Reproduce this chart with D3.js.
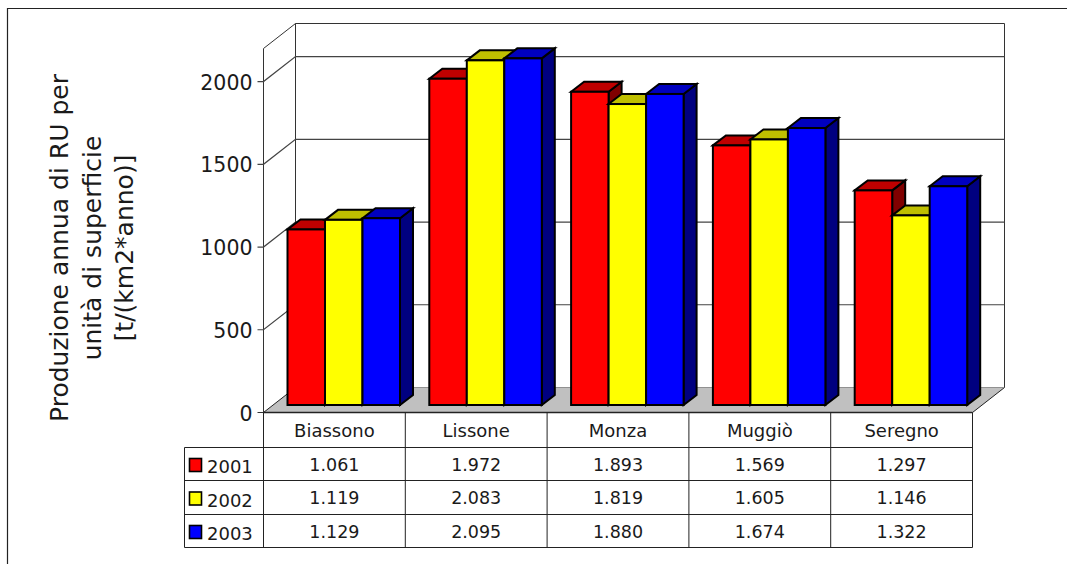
<!DOCTYPE html>
<html>
<head>
<meta charset="utf-8">
<script src="https://cdn.jsdelivr.net/npm/d3@7"></script>
<style>
html, body { margin: 0; padding: 0; background: #fff; }
svg { display: block; }
text { font-family: "DejaVu Sans", Verdana, sans-serif; fill: #1a1a1a; }
</style>
</head>
<body>
<svg id="chart" width="1067" height="564"></svg>
<script>
const categories = ["Biassono", "Lissone", "Monza", "Muggiò", "Seregno"];
const years = ["2001", "2002", "2003"];
const values2001 = [1061, 1972, 1893, 1569, 1297];
const values2002 = [1119, 2083, 1819, 1605, 1146];
const values2003 = [1129, 2095, 1880, 1674, 1322];
const yTicks = [0, 500, 1000, 1500, 2000];
const axisTitle = ["Produzione annua di RU per", "unità di superficie", "[t/(km2*anno)]"];
const frontColors = ["#ff0000", "#ffff00", "#0000ff"];
const topColors = ["#bf0000", "#bfbf00", "#0000bf"];
const sideColors = ["#800000", "#808000", "#000080"];

const series = [values2001, values2002, values2003];
const itFormat = d3.formatLocale({ decimal: ",", thousands: ".", grouping: [3], currency: ["€", ""] }).format(",d");

const svg = d3.select("#chart");

// Frame and plot geometry
const frame = { left: 7.5, top: 8.5 };
const plot = { left: 263.5, right: 972.5, base: 412.5, top: 48.5 };
const wall = { dx: 32, dy: -25 };
const barLift = -7.5;
const barDepth = { dx: 13, dy: -10 };

const y = d3.scaleLinear().domain([0, 2200]).range([plot.base, plot.top]);
const x0 = d3.scaleBand().domain(categories).range([plot.left, plot.right]);
const groupInset = 24;
const x1 = d3.scaleBand().domain(d3.range(3)).range([0, 112.5]);

// Outer frame
svg.append("path")
  .attr("d", `M${frame.left},564V${frame.top}H1067`)
  .attr("fill", "none").attr("stroke", "#222").attr("stroke-width", 1.2);

const poly = pts => "M" + pts.map(p => p.join(",")).join("L") + "Z";

// Floor
svg.append("path")
  .attr("d", poly([
    [plot.left, plot.base], [plot.right, plot.base],
    [plot.right + wall.dx, plot.base + wall.dy], [plot.left + wall.dx, plot.base + wall.dy]
  ]))
  .attr("fill", "#c0c0c0").attr("stroke", "#222");

// Back wall and side wall outlines
svg.append("path")
  .attr("d", `M${plot.left + wall.dx},${plot.base + wall.dy}V${plot.top + wall.dy}H${plot.right + wall.dx}V${plot.base + wall.dy}`)
  .attr("fill", "#fff").attr("stroke", "#333");
svg.append("path")
  .attr("d", `M${plot.left},${plot.base}V${plot.top}L${plot.left + wall.dx},${plot.top + wall.dy}`)
  .attr("fill", "none").attr("stroke", "#333");

// Gridlines, running across the side wall and back wall, with tick marks
const grid = svg.append("g");
yTicks.filter(d => d > 0).forEach(d => {
  grid.append("path")
    .attr("d", `M${plot.left - 6},${y(d)}H${plot.left}L${plot.left + wall.dx},${y(d) + wall.dy}H${plot.right + wall.dx}`)
    .attr("fill", "none").attr("stroke", "#444").attr("stroke-width", 1.2);
});
svg.append("path")
  .attr("d", `M${plot.left - 6},${plot.base}H${plot.left}`)
  .attr("stroke", "#333");

// Value axis labels
svg.append("g").selectAll("text").data(yTicks).join("text")
  .attr("x", plot.left - 11)
  .attr("y", d => y(d) + 8)
  .attr("text-anchor", "end")
  .attr("font-size", 20.5)
  .text(d => d);

// Axis title, three rotated lines
svg.append("g").selectAll("text").data(axisTitle).join("text")
  .attr("transform", (d, i) => `translate(${68 + i * 32.5},248) rotate(-90)`)
  .attr("text-anchor", "middle")
  .attr("font-size", 25)
  .text(d => d);

// Bars, drawn left to right within each group so that sides overlap properly
const bars = svg.append("g").attr("stroke", "#000").attr("stroke-width", 2).attr("stroke-linejoin", "miter");
categories.forEach((cat, c) => {
  series.forEach((vals, s) => {
    const v = vals[c];
    const xl = x0(cat) + groupInset + x1(s);
    const xr = xl + x1.bandwidth();
    const yb = y(0) + barLift;
    const yt = y(v) + barLift;
    const d = barDepth;
    const g = bars.append("g").datum({ cat, year: years[s], v });
    g.append("path")
      .attr("d", poly([[xr, yt], [xr + d.dx, yt + d.dy], [xr + d.dx, yb + d.dy], [xr, yb]]))
      .attr("fill", sideColors[s]);
    g.append("path")
      .attr("d", poly([[xl, yt], [xl + d.dx, yt + d.dy], [xr + d.dx, yt + d.dy], [xr, yt]]))
      .attr("fill", topColors[s]);
    g.append("rect")
      .attr("x", xl).attr("y", yt)
      .attr("width", xr - xl).attr("height", yb - yt)
      .attr("fill", frontColors[s]);
  });
});

// Data table beneath the plot
const table = { legendLeft: 184.5, rows: [412.5, 447.5, 480.5, 514.5, 547.5] };
const tableLines = svg.append("g").attr("stroke", "#222").attr("fill", "none");
table.rows.forEach((ry, i) => {
  tableLines.append("line")
    .attr("x1", i === 0 ? plot.left : table.legendLeft)
    .attr("x2", plot.right).attr("y1", ry).attr("y2", ry)
    .attr("stroke-width", i === 0 ? 1.6 : 1);
});
const colEdges = categories.map(c => x0(c)).concat([plot.right]);
colEdges.forEach(cx => {
  tableLines.append("line").attr("x1", cx).attr("x2", cx)
    .attr("y1", table.rows[0]).attr("y2", table.rows[4]);
});
tableLines.append("line").attr("x1", table.legendLeft).attr("x2", table.legendLeft)
  .attr("y1", table.rows[1]).attr("y2", table.rows[4]);

// Category headers
svg.append("g").selectAll("text").data(categories).join("text")
  .attr("x", d => x0(d) + x0.bandwidth() / 2)
  .attr("y", 437)
  .attr("text-anchor", "middle")
  .attr("font-size", 18)
  .text(d => d);

// Legend cells and value rows
series.forEach((vals, s) => {
  const top = table.rows[s + 1];
  const bottom = table.rows[s + 2];
  const mid = (top + bottom) / 2;
  svg.append("rect")
    .attr("x", 189.5).attr("y", mid - 5.5)
    .attr("width", 12).attr("height", 13)
    .attr("fill", frontColors[s]).attr("stroke", "#000").attr("stroke-width", 1.6);
  svg.append("text")
    .attr("x", 207).attr("y", mid + 9)
    .attr("font-size", 18)
    .text(years[s]);
  svg.append("g").selectAll("text").data(vals).join("text")
    .attr("x", (d, i) => x0(categories[i]) + x0.bandwidth() / 2)
    .attr("y", mid + 6.5)
    .attr("text-anchor", "middle")
    .attr("font-size", 17.5)
    .text(d => itFormat(d));
});
</script>
</body>
</html>
